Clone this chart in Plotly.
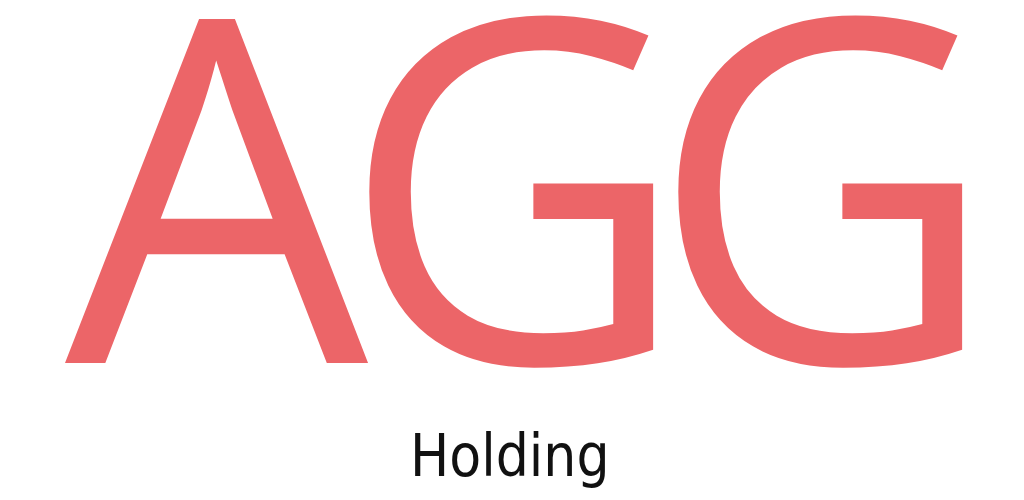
import plotly.graph_objects as go

# logo text
BRAND_LETTERS = ["A", "G", "G"]
SUBTITLE = "Holding"

BRAND_COLOR = "#EC6568"
LETTER_CENTERS = [211, 506, 815]  # px, centre of each letter box

fig = go.Figure()

for letter, cx in zip(BRAND_LETTERS, LETTER_CENTERS):
    fig.add_annotation(
        text=letter, x=cx, y=169, xref="x", yref="y",
        showarrow=False, xanchor="center", yanchor="middle",
        font=dict(family="Open Sans", size=480, color=BRAND_COLOR),
    )

fig.add_annotation(
    text=SUBTITLE, x=502, y=448, xref="x", yref="y",
    showarrow=False, xanchor="center", yanchor="middle",
    font=dict(family="DejaVu Sans Condensed, Liberation Sans Narrow", size=58, color="#111111"),
)

fig.update_xaxes(range=[0, 1024], visible=False)
fig.update_yaxes(range=[500, 0], visible=False)
fig.update_layout(
    width=1024, height=500,
    margin=dict(l=0, r=0, t=0, b=0),
    paper_bgcolor="white", plot_bgcolor="white",
    showlegend=False,
)

fig.write_html("out.html")
